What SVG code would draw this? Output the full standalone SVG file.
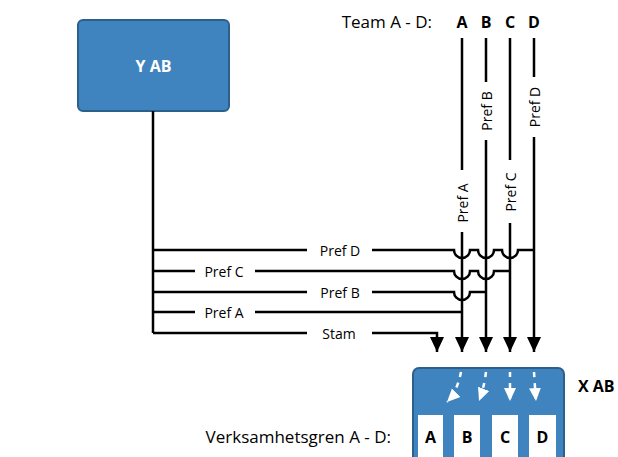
<svg xmlns="http://www.w3.org/2000/svg" width="618" height="457" viewBox="0 0 618 457">
  <style>
    .box { fill: #3f84bf; stroke: #2b5f8c; stroke-width: 2; }
    .wire { fill: none; stroke: #000; stroke-width: 2.5; }
    .flow { fill: none; stroke: #fff; stroke-width: 2.5; stroke-dasharray: 5 6; }
    .lbl { font-family: "Open Sans", "Noto Sans", sans-serif; font-size: 14px; fill: #000; }
    .big { font-family: "Open Sans", "Noto Sans", sans-serif; font-size: 17px; fill: #000; }
    .bold { font-family: "Open Sans", "Noto Sans", sans-serif; font-size: 16px; font-weight: bold; }
    .slot { fill: #fff; }
  </style>
  <defs>
    <marker id="head" markerUnits="userSpaceOnUse" markerWidth="16" markerHeight="16" viewBox="0 0 16 16" refX="15" refY="8" orient="auto">
      <path d="M0,1 L15,8 L0,15 Z" fill="#000"/>
    </marker>
    <marker id="whead" markerUnits="userSpaceOnUse" markerWidth="14" markerHeight="14" viewBox="0 0 14 14" refX="13" refY="7" orient="auto">
      <path d="M0,1 L13,7 L0,13 Z" fill="#fff"/>
    </marker>
  </defs>

  <!-- Y AB -->
  <g id="y-ab">
    <rect class="box" x="78" y="20" width="151" height="91" rx="5"/>
    <text class="bold" x="153.5" y="72" text-anchor="middle" fill="#fff">Y AB</text>
  </g>

  <!-- X AB with its branches -->
  <g id="x-ab">
    <rect class="box" x="413" y="368" width="151" height="100" rx="6"/>
    <text class="bold" x="578" y="392" fill="#000">X AB</text>
  </g>
  <g id="branch-a">
    <rect class="slot" x="418" y="415" width="25" height="50"/>
    <text class="bold" x="430.5" y="443" text-anchor="middle" fill="#000">A</text>
  </g>
  <g id="branch-b">
    <rect class="slot" x="454" y="415" width="26" height="50"/>
    <text class="bold" x="467" y="443" text-anchor="middle" fill="#000">B</text>
  </g>
  <g id="branch-c">
    <rect class="slot" x="492" y="415" width="26" height="50"/>
    <text class="bold" x="505" y="443" text-anchor="middle" fill="#000">C</text>
  </g>
  <g id="branch-d">
    <rect class="slot" x="529" y="415" width="27" height="50"/>
    <text class="bold" x="542.5" y="443" text-anchor="middle" fill="#000">D</text>
  </g>

  <!-- Headings -->
  <g id="team-header">
    <text class="big" x="432" y="28" text-anchor="end">Team A - D:</text>
    <text class="bold" x="462" y="28" text-anchor="middle" font-size="17" fill="#000">A</text>
    <text class="bold" x="486" y="28" text-anchor="middle" font-size="17" fill="#000">B</text>
    <text class="bold" x="510" y="28" text-anchor="middle" font-size="17" fill="#000">C</text>
    <text class="bold" x="534" y="28" text-anchor="middle" font-size="17" fill="#000">D</text>
  </g>
  <g id="branch-header">
    <text class="big" x="391" y="443" text-anchor="end">Verksamhetsgren A - D:</text>
  </g>

  <!-- Connectors -->
  <g id="connectors">
    <!-- trunk from Y AB -->
    <path class="wire" d="M153,111 V333"/>

    <!-- Pref D -->
    <path class="wire" d="M153,250 H307 M372,250 H454 a8,8 0 0 0 16,0 H478 a8,8 0 0 0 16,0 H502 a8,8 0 0 0 16,0 H535"/>
    <text class="lbl" x="340" y="250" text-anchor="middle" dominant-baseline="central">Pref D</text>
    <!-- Pref C -->
    <path class="wire" d="M153,271 H195 M255,271 H454 a8,8 0 0 0 16,0 H478 a8,8 0 0 0 16,0 H511"/>
    <text class="lbl" x="224" y="271" text-anchor="middle" dominant-baseline="central">Pref C</text>
    <!-- Pref B -->
    <path class="wire" d="M153,292 H307 M372,292 H454 a8,8 0 0 0 16,0 H487"/>
    <text class="lbl" x="340" y="292" text-anchor="middle" dominant-baseline="central">Pref B</text>
    <!-- Pref A -->
    <path class="wire" d="M153,312 H195 M255,312 H463"/>
    <text class="lbl" x="224" y="312" text-anchor="middle" dominant-baseline="central">Pref A</text>
    <!-- Stam -->
    <path class="wire" d="M153,333 H307 M372,333 H437 V352" marker-end="url(#head)"/>
    <text class="lbl" x="339" y="333" text-anchor="middle" dominant-baseline="central">Stam</text>

    <!-- Team lines -->
    <path class="wire" d="M462,38 V170 M462,232 V352" marker-end="url(#head)"/>
    <text class="lbl" transform="translate(462,203) rotate(-90)" text-anchor="middle" dominant-baseline="central">Pref A</text>
    <path class="wire" d="M486,38 V82 M486,140 V352" marker-end="url(#head)"/>
    <text class="lbl" transform="translate(486,111) rotate(-90)" text-anchor="middle" dominant-baseline="central">Pref B</text>
    <path class="wire" d="M510,38 V160 M510,223 V352" marker-end="url(#head)"/>
    <text class="lbl" transform="translate(510,192) rotate(-90)" text-anchor="middle" dominant-baseline="central">Pref C</text>
    <path class="wire" d="M534,38 V77 M534,137 V352" marker-end="url(#head)"/>
    <text class="lbl" transform="translate(534,107) rotate(-90)" text-anchor="middle" dominant-baseline="central">Pref D</text>

    <!-- flows inside X AB -->
    <path class="flow" d="M461,372 Q457,392 447,402" marker-end="url(#whead)"/>
    <path class="flow" d="M486,372 Q484,388 479,401" marker-end="url(#whead)"/>
    <path class="flow" d="M510,372 V401" marker-end="url(#whead)"/>
    <path class="flow" d="M534,372 Q535,388 536,401" marker-end="url(#whead)"/>
  </g>
</svg>
